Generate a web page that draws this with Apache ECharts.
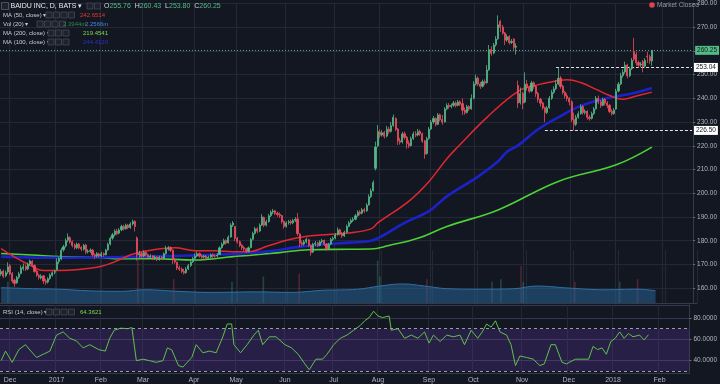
<!DOCTYPE html>
<html><head><meta charset="utf-8">
<script src="https://cdn.jsdelivr.net/npm/echarts@6/dist/echarts.min.js"></script>
<style>html,body{margin:0;padding:0;background:#131722;}#c{width:720px;height:384px;}</style>
</head><body><div id="c"></div><script>
// ---------- calendar ----------
const startDate = '2016-11-25';
const holidays = ['2016-12-26','2017-01-02','2017-01-16','2017-02-20','2017-04-14','2017-05-29','2017-07-04','2017-09-04','2017-11-23','2017-12-25','2018-01-01','2018-01-15','2018-02-19'];
const slotCount = 311;           // trading-day slots shown on the x axis (incl. empty right margin)
const dec1Slot = 4;              // bar numbers below are counted from 2016-12-01
const monthNames = ['Jan','Feb','Mar','Apr','May','Jun','Jul','Aug','Sep','Oct','Nov','Dec'];

// ---------- daily candles [open, close, low, high], from 2016-11-25 ----------
const ohlc = [
[166.0,167.0,165.2,168.1],[167.2,165.0,164.3,167.8],[165.3,166.5,164.6,167.4],[166.8,169.0,166.0,170.9],
[169.5,166.0,165.4,170.2],[166.2,163.0,162.1,166.8],[163.4,162.0,160.6,164.0],[162.3,164.5,161.8,165.2],[164.6,166.0,163.9,166.9],
[166.2,168.5,165.8,169.6],[168.3,169.0,167.4,170.4],[169.2,168.0,167.2,169.9],[168.1,170.0,167.6,170.8],[170.2,171.5,169.4,172.1],
[171.3,169.5,168.9,171.8],[169.6,167.0,166.5,170.0],[167.2,165.5,164.8,167.7],[165.4,164.5,163.6,166.1],[164.3,165.0,163.7,165.9],
[165.2,163.0,161.8,165.5],[163.1,162.5,161.4,163.9],[162.6,164.0,162.0,164.6],[164.1,165.5,163.5,166.2],[165.4,166.5,164.9,167.1],
[166.7,167.0,165.8,167.8],[167.8,171.0,167.4,172.6],[171.2,172.5,170.3,173.1],[172.3,176.0,171.8,177.0],[176.2,177.5,175.4,178.3],
[177.8,180.0,177.1,181.0],[180.2,181.5,179.4,183.1],[181.3,179.5,178.8,181.9],[179.6,178.0,177.2,180.1],[178.2,177.0,176.3,178.8],
[177.1,178.5,176.5,179.2],[178.6,177.0,176.4,179.1],[177.2,176.5,175.6,177.8],[176.4,178.0,175.9,178.7],[178.2,175.2,174.3,178.7],
[175.3,175.5,174.6,176.4],[175.6,176.0,174.9,176.8],[176.1,174.0,173.3,176.5],[174.1,173.5,172.4,174.6],[173.6,174.5,172.9,175.2],
[174.4,173.5,172.8,175.0],[173.6,174.5,173.0,175.3],[174.6,174.0,173.2,175.1],[174.1,176.0,173.8,176.6],[176.1,178.5,175.8,179.2],
[178.6,181.0,178.0,181.7],[181.1,182.5,180.4,183.3],[182.6,184.0,181.9,184.8],[184.1,183.0,182.3,185.0],[183.2,184.5,182.7,185.3],
[184.6,186.0,184.0,186.8],[186.1,185.0,184.3,186.7],[185.1,186.5,184.6,187.2],[186.6,185.5,184.9,187.1],[185.6,187.0,185.0,187.8],
[187.1,188.0,186.4,188.9],[188.2,186.0,183.9,188.6],[181.2,174.0,171.6,181.8],[174.2,174.5,172.8,175.8],[174.6,173.5,172.6,175.2],
[173.6,175.0,173.0,175.9],[175.1,174.0,173.3,175.6],[174.1,173.0,172.2,174.6],[173.1,173.5,172.4,174.3],[173.6,172.5,171.8,174.0],
[172.6,173.0,171.9,173.8],[173.1,172.0,171.4,173.5],[172.1,173.0,171.6,173.7],[173.1,172.5,171.9,173.6],[172.6,174.5,172.2,175.1],
[174.6,176.5,174.1,177.9],[176.6,177.0,175.8,177.8],[177.1,176.0,175.2,177.6],[176.0,172.0,170.2,176.3],[172.1,171.0,170.3,172.8],
[170.9,168.5,167.6,171.2],[168.6,168.0,167.2,169.5],[168.1,167.0,166.3,168.8],[167.1,166.5,165.8,168.2],[166.6,168.0,166.0,168.9],
[168.1,169.5,167.6,170.2],[169.6,171.0,169.0,171.8],[171.1,172.5,170.6,173.2],[172.6,173.5,172.0,174.6],[173.6,174.5,173.0,175.4],
[174.6,173.5,172.9,175.1],[173.6,173.0,172.3,174.2],[173.1,173.5,172.5,174.1],[173.6,172.5,171.8,174.0],[172.6,173.0,172.0,173.7],
[173.1,174.0,172.6,174.6],[174.1,173.5,172.8,174.7],[173.6,173.5,172.9,174.2],[173.6,174.0,173.0,174.8],[174.2,177.0,174.0,177.6],
[177.1,178.5,176.6,179.3],[178.6,180.0,178.0,180.9],[180.1,179.0,178.3,180.6],[179.1,181.5,178.8,182.3],[181.6,186.5,181.3,187.4],
[186.6,187.5,185.8,188.3],[186.0,181.0,179.8,186.3],[181.1,179.5,178.8,181.6],[179.6,178.0,177.3,180.1],[178.1,177.0,176.1,178.7],
[177.1,176.5,175.7,177.8],[176.6,175.5,174.8,177.0],[175.6,177.0,175.1,177.6],[177.1,180.5,176.8,181.2],[180.6,183.0,180.1,183.8],
[183.1,185.0,182.6,185.8],[185.1,184.0,183.2,185.7],[184.1,186.5,183.6,187.3],[186.6,190.0,186.2,191.2],[189.8,186.5,185.7,190.2],
[186.6,188.0,186.0,188.9],[188.1,190.5,187.6,191.3],[190.6,192.0,190.0,192.8],[192.1,192.5,191.2,193.4],[192.6,191.5,190.8,193.0],
[191.6,191.0,190.1,192.3],[191.1,190.5,189.6,191.9],[190.6,188.0,187.2,190.9],[188.1,186.0,185.1,188.6],[186.1,187.5,185.5,188.2],
[187.6,188.0,186.8,188.8],[188.1,187.5,186.7,188.9],[187.6,188.5,187.0,189.2],[188.6,189.0,187.9,189.9],[189.2,183.0,182.1,191.7],
[182.8,179.0,177.4,183.2],[179.1,178.5,177.6,180.0],[178.6,179.5,177.9,180.3],[179.6,180.5,178.8,181.3],[180.4,178.0,177.2,180.9],
[178.1,175.0,173.7,178.4],[175.2,178.5,174.8,179.2],[178.6,179.0,177.7,179.9],[179.1,178.0,177.3,179.6],[178.1,179.5,177.6,180.2],
[179.6,180.0,178.9,180.8],[180.1,178.5,177.8,180.5],[178.6,176.5,175.8,178.9],[176.6,178.5,176.1,179.1],[178.6,180.5,178.2,181.2],
[180.6,181.0,179.9,181.8],[181.1,182.5,180.6,183.2],[182.6,184.5,182.1,185.6],[184.6,183.0,182.3,185.1],[183.1,182.0,181.2,183.7],
[182.1,183.5,181.6,184.2],[183.6,186.0,183.2,186.8],[186.1,187.5,185.7,188.3],[187.6,188.5,187.0,189.3],[188.6,189.0,187.9,189.9],
[189.1,190.5,188.6,191.3],[190.6,192.0,190.1,192.8],[192.1,191.5,190.7,192.9],[191.6,193.0,191.1,193.8],[193.1,192.5,191.8,193.9],
[192.6,195.0,192.2,195.8],[195.1,198.5,194.8,199.6],[198.6,201.0,198.0,202.0],[201.1,204.5,200.8,205.4],[210.5,219.5,209.6,221.8],
[220.0,226.0,219.4,228.8],[225.8,224.5,223.3,227.0],[224.6,225.5,223.9,226.6],[225.6,224.0,223.1,226.3],[224.1,227.0,223.6,228.4],
[227.1,226.0,225.1,228.0],[226.1,228.5,225.6,230.0],[228.6,232.0,228.0,233.2],[231.5,227.0,226.2,232.0],[227.1,222.0,220.4,227.5],
[222.1,221.5,220.5,223.4],[221.6,225.0,221.0,225.9],[225.1,223.5,222.6,226.0],[223.6,221.0,218.8,224.2],[221.1,220.0,219.0,222.3],
[220.1,223.0,219.7,223.9],[223.1,225.0,222.5,226.0],[225.1,224.5,223.6,226.2],[224.6,226.0,224.0,227.1],[226.1,225.0,224.2,226.8],
[225.1,222.0,221.2,225.6],[222.1,216.5,214.6,222.5],[216.8,223.0,216.3,223.8],[223.1,227.0,222.6,227.9],[227.1,230.0,226.6,230.9],
[230.1,231.5,229.3,232.6],[231.6,229.0,228.2,232.0],[229.1,233.0,228.7,233.8],[233.1,231.0,230.3,233.6],[231.1,230.0,228.9,233.0],
[230.1,235.5,229.8,236.3],[235.6,237.0,235.0,237.9],[237.1,236.5,235.6,238.0],[236.6,237.0,235.8,237.8],[237.1,238.0,236.4,238.9],
[238.1,237.0,236.2,238.8],[237.1,238.5,236.6,239.3],[238.6,237.5,236.8,239.2],[237.8,235.0,233.0,240.0],[235.1,234.0,233.1,236.2],
[234.1,236.5,233.6,237.3],[236.6,235.5,234.7,237.1],[235.6,240.0,235.2,241.7],[240.1,246.0,239.6,247.2],[246.1,248.5,245.4,250.0],
[248.6,246.0,245.2,249.3],[246.1,245.0,244.0,247.0],[245.1,247.0,244.6,247.9],[247.1,246.5,245.6,248.0],[246.6,252.0,246.2,254.0],
[252.1,260.5,251.6,262.5],[260.6,259.0,258.0,262.0],[259.1,262.5,258.6,263.4],[262.6,265.0,261.8,266.2],[265.1,271.0,264.7,275.0],
[272.5,270.0,268.0,273.0],[270.1,267.5,266.8,271.0],[267.6,264.5,262.5,268.0],[264.6,266.0,263.9,267.0],[266.1,263.5,262.7,266.6],
[263.6,264.0,262.9,265.0],[265.0,261.5,260.5,265.4],[261.6,262.0,258.5,263.2],[245.5,238.0,236.0,247.5],[238.3,242.0,237.4,244.6],
[242.1,238.0,235.4,242.8],[238.5,246.0,238.0,251.0],[246.1,244.5,243.3,247.8],[244.6,243.0,242.2,245.4],[243.1,246.5,242.6,247.4],
[246.6,245.0,244.0,247.2],[245.1,242.0,240.6,245.6],[242.1,239.5,238.3,242.8],[239.6,238.0,236.5,240.2],[238.1,236.0,235.2,238.6],
[236.1,234.0,230.0,236.5],[234.1,236.0,233.4,236.8],[236.1,240.0,235.6,241.0],[240.1,242.5,239.4,243.6],[242.6,244.0,241.8,245.1],
[244.1,246.0,243.5,247.6],[246.1,248.5,245.6,253.0],[248.6,245.0,244.1,249.4],[245.1,242.5,241.6,245.8],[242.6,241.0,240.0,243.2],
[241.1,240.0,238.8,242.2],[240.1,238.5,237.0,240.6],[238.6,231.0,230.0,239.2],[231.1,229.0,226.5,234.0],[229.1,232.0,228.3,233.0],
[232.1,233.5,231.4,234.6],[233.6,236.5,233.1,237.5],[236.6,234.0,233.2,237.2],[234.1,234.5,233.2,235.4],[234.6,232.0,231.0,235.0],
[232.1,231.5,230.6,233.0],[231.6,233.5,231.1,234.4],[233.6,235.5,233.0,236.4],[235.6,240.0,235.2,241.0],[240.1,238.5,237.6,241.2],
[238.6,237.0,236.0,239.4],[237.1,239.5,236.7,240.3],[239.6,238.0,237.0,240.2],[238.1,237.0,235.8,238.9],[237.1,234.5,233.8,237.6],
[234.6,233.5,232.8,235.4],[233.6,235.0,233.1,235.9],[235.5,243.0,235.2,244.0],[243.1,246.0,242.6,246.9],[246.1,249.5,245.6,250.8],
[249.6,251.0,248.8,252.2],[251.1,254.0,250.4,255.5],[254.1,249.5,248.4,254.6],[249.6,252.5,249.0,253.4],[252.6,256.0,252.0,257.0],
[259.8,256.5,255.8,265.5],[258.5,255.0,253.8,259.5],[255.1,254.0,252.8,256.0],[254.1,254.5,253.2,255.4],[255.5,253.5,251.0,256.2],
[253.6,256.0,253.0,257.0],[257.8,257.5,255.0,259.6],[257.6,255.8,254.6,258.4],[255.76,260.25,253.80,260.43]
];

// ---------- moving averages (bar number from 2016-12-01, value) ----------
const ma50Bars  = [-4,1,9,15,22,31,39,45,49,56,65,74,83,92,100,107,116,125,134,143,152,162,165,179,188,196,201,214,228,237,246,250,256,263,269,275,281,288];
const ma50Vals  = [176.7,173.7,169.6,167.5,167.5,167.9,168.8,170.4,172.0,174.6,176.3,177.0,175.8,175.8,175.4,175.4,177.9,180.4,182.0,182.6,183.3,185.0,187.5,196.7,205.0,214.6,219.6,232.0,243.0,245.8,247.5,247.9,246.7,243.8,241.2,239.6,241.0,242.65];
const ma100Bars = [-4,22,49,74,98,116,129,143,152,162,167,177,188,196,210,219,223,228,237,246,254,263,272,281,288];
const ma100Vals = [173.3,172.8,173.1,173.6,174.3,175.5,177.3,178.6,179.2,180.0,182.0,187.5,192.5,198.7,207.0,213.5,217.5,220.2,227.0,232.0,236.0,239.0,240.8,242.5,244.4];
const ma200Bars = [-4,10,22,40,49,65,83,100,107,121,134,152,162,170,183,196,219,246,272,288];
const ma200Vals = [174.6,174.0,173.3,172.9,172.4,172.4,171.9,173.3,173.8,175.0,176.2,176.4,176.5,178.0,181.0,186.0,193.0,205.0,212.0,219.45];

// ---------- volume (millions): 20-day average band and the visible spikes ----------
const volMaBars = [-4,10,22,35,50,60,75,90,110,125,140,155,165,175,185,195,210,225,235,250,265,280,288];
const volMaVals = [2.9,2.7,2.6,2.3,2.2,2.5,2.2,2.0,2.1,2.0,2.4,2.6,3.2,3.6,3.2,2.7,2.6,2.7,3.2,2.8,2.5,2.6,2.3];
const volSpikeBars = [-1,57,73,99,113,129,164,165,186,215,219,228,229,252,272,280];
const volSpikeVals = [4.0,9.5,4.5,4.0,5.0,5.5,8.0,5.0,4.5,4.0,4.5,7.0,4.0,4.0,4.0,4.5];

// ---------- RSI(14) ----------
const rsiBars = [-4,-2,1,4,7,9,12,15,18,21,24,27,30,33,36,40,43,45,47,50,53,55,57,60,63,66,69,71,73,76,78,82,84,87,90,93,96,98,100,101,104,107,110,112,114,117,120,124,127,130,133,135,138,141,143,146,149,152,155,158,160,162,164,166,168,171,172,175,178,181,184,187,189,191,194,197,200,203,205,208,211,213,215,217,219,221,224,226,228,230,233,236,239,241,244,246,249,251,255,258,261,263,265,267,269,271,273,275,277,279,281,284,286,288];
const rsiVals = [40,49,38.4,50.4,55,50,43,46,49,64,67,61,58.5,52,55,50.4,49,61,68.5,70.5,70,71,40,41.4,40,38.4,40,52,50,35.4,34,43,55,47.4,49,47.4,62.4,74.4,74.4,55,47.4,55,64,68.5,55,62.4,62.4,55,52,46,37,31.5,41.4,41.4,46,55,61,64,68.5,73,77.4,80.4,86.4,81.9,80.4,81.9,68.5,70,61,64,61,67,56.5,64,58,64,62.4,64,55,68.5,61,67,74.4,71.4,77.4,67,64,55,35.4,44.4,43,41.4,35.4,37,55,55,38.4,37,41.4,41.4,41.4,53.4,50.4,52,46,58,61,67,61,65.5,62.4,64,59.5,64.36];

// ---------- levels & header ----------
const lastPrice = 260.25;
const resistance = {value: 253.04, fromBar: 245};
const support = {value: 226.50, fromBar: 240};
const rsiBands = {upper: 70, lower: 30};
const priceTicks = [160,170,180,190,200,210,220,230,240,250,260,270,280];
const rsiTicks = [40,60,80];
const header = {symbol:'BAIDU INC, D, BATS', o:'255.76', h:'260.43', l:'253.80', c:'260.25'};
const legendNames  = ['MA (50, close)', 'Vol (20)', 'MA (200, close)', 'MA (100, close)'];
const legendValues = [['242.6514'], ['2.3944m','2.2566m'], ['219.4541'], ['244.4120']];
const legendValueColors = [['#e53935'], ['#2f8a3c','#3d8be0'], ['#7ed957'], ['#2a2fd0']];
const rsiLegend = {name:'RSI (14, close)', val:'64.3621'};

// ---------- build ----------
function tradingDays(start, n, hol) {
  const out = []; const d = new Date(start + 'T12:00:00Z');
  while (out.length < n) {
    const wd = d.getUTCDay(); const s = d.toISOString().slice(0,10);
    if (wd !== 0 && wd !== 6 && hol.indexOf(s) < 0) out.push(s);
    d.setUTCDate(d.getUTCDate() + 1);
  }
  return out;
}
const dates = tradingDays(startDate, slotCount, holidays);
const slot = b => dates[b + dec1Slot];
const pairs = (bars, vals) => bars.map((b, i) => [slot(b), vals[i]]);
const isMonthStart = (i) => i > 0 && dates[i].slice(0,7) !== dates[i-1].slice(0,7);
const monthLabel = v => { const m = +v.slice(5,7); return m === 1 ? v.slice(0,4) : monthNames[m-1]; };

const BG = '#131722', GRID = '#242834', AXIS = '#363a45', TXT = '#b2b5be';
const UP = '#53b987', DOWN = '#eb4d5c';
const FONT = 'Liberation Sans, Arial, sans-serif';

const xBase = (gi, showLabels) => ({
  type:'category', gridIndex:gi, data:dates, boundaryGap:true,
  axisLine:{show: gi !== 0, lineStyle:{color:AXIS, width:1}},
  axisTick:{show:false},
  axisLabel:{show:showLabels, interval:(i)=>isMonthStart(i), formatter:monthLabel, color:TXT, fontSize:7, fontFamily:FONT, margin:4},
  splitLine:{show:true, interval:(i)=>isMonthStart(i), lineStyle:{color:GRID, width:1}}
});

const chart = echarts.init(document.getElementById('c'), null, {renderer:'canvas', width:720, height:384});

// header / legend decorations (layout only)
const G = [];
const txt = (x, y, text, fill, size, extra) => Object.assign({type:'text', x:x, y:y, z:100,
  style:Object.assign({text:text, fill:fill, font:size + 'px ' + FONT, verticalAlign:'middle'}, extra || {})});
const box = (x, y) => ({type:'rect', z:100, shape:{x:x, y:y - 3, width:6, height:6}, style:{fill:'#1e222d', stroke:'#454955', lineWidth:0.8}});
G.push({type:'rect', z:100, shape:{x:1.5, y:2.5, width:7, height:7}, style:{fill:'#1e222d', stroke:'#5a5e69', lineWidth:0.8}});
G.push(txt(10.5, 6, header.symbol + ' \u25BE', '#e6e8ee', 7));
G.push(box(87, 6), box(94.5, 6));
G.push(txt(104, 6, '{k|O}{v|' + header.o + '}  {k|H}{v|' + header.h + '}  {k|L}{v|' + header.l + '}  {k|C}{v|' + header.c + '}', '#d1d4dc', 7,
  {rich:{k:{fill:'#d1d4dc', font:'7px ' + FONT}, v:{fill:UP, font:'7px ' + FONT}}}));
const rowY = [15, 24, 33, 42];
const rowBoxX = [46, 37, 48, 48];
const rowBoxN = [4, 4, 3, 3];
const rowValX = [[80], [63, 85], [83], [83]];
legendNames.forEach((n, i) => {
  G.push(txt(3, rowY[i], n + ' \u25BE', '#c8cad0', 6));
  for (let k = 0; k < rowBoxN[i]; k++) G.push(box(rowBoxX[i] + k * 7.5, rowY[i]));
  legendValues[i].forEach((v, j) => G.push(txt(rowValX[i][j], rowY[i], v, legendValueColors[i][j], 6)));
});
G.push(txt(3, 312, rsiLegend.name + ' \u25BE', '#c8cad0', 6));
for (let k = 0; k < 4; k++) G.push(box(46 + k * 7.5, 312));
G.push(txt(80, 312, rsiLegend.val, '#7ed957', 6));
G.push({type:'circle', z:100, shape:{cx:652, cy:5, r:2.8}, style:{fill:'#e0424f'}});
G.push(txt(657, 5, 'Market Closed', '#9598a1', 6.5));

const option = {
  backgroundColor: BG,
  animation: false,
  textStyle:{fontFamily:FONT},
  grid: [
    {left:0, right:23, top:0, height:303},
    {left:0, right:23, top:250, height:53},
    {left:0, right:23, top:305, height:68}
  ],
  xAxis: [ xBase(0,false), xBase(1,false), xBase(2,true) ],
  yAxis: [
    {type:'value', gridIndex:0, position:'right', min:153.75, max:280, minInterval:10, maxInterval:10,
     axisLine:{show:true, lineStyle:{color:AXIS}}, axisTick:{show:true, length:2, lineStyle:{color:'#6a6d78'}},
     axisLabel:{color:TXT, fontSize:6.5, margin:4, showMinLabel:false, formatter:v => priceTicks.indexOf(v) >= 0 ? v.toFixed(2) : ''},
     splitLine:{lineStyle:{color:GRID}}},
    {type:'value', gridIndex:1, min:0, max:10, show:false, splitLine:{show:false}},
    {type:'value', gridIndex:2, position:'right', min:28.45, max:92.2, minInterval:20, maxInterval:20,
     axisLine:{show:true, lineStyle:{color:AXIS}}, axisTick:{show:true, length:2, lineStyle:{color:'#6a6d78'}},
     axisLabel:{color:TXT, fontSize:6.5, margin:4, showMinLabel:false, showMaxLabel:false, formatter:v => rsiTicks.indexOf(v) >= 0 ? v.toFixed(4) : ''},
     splitLine:{lineStyle:{color:'#3a3550'}}}
  ],
  series: [
    {type:'bar', xAxisIndex:1, yAxisIndex:1, barWidth:1.6, z:1,
     data: volSpikeBars.map((b,i) => { const c = ohlc[b + dec1Slot]; return {value:[slot(b), volSpikeVals[i]], itemStyle:{color: c[1] >= c[0] ? 'rgba(83,185,135,0.28)' : 'rgba(235,77,92,0.28)'}}; })},
    {type:'line', xAxisIndex:1, yAxisIndex:1, data:pairs(volMaBars, volMaVals), smooth:0.4, connectNulls:true, symbol:'none', z:2,
     lineStyle:{color:'#2f6fa3', width:1}, areaStyle:{color:'rgba(38,93,140,0.85)'}},
    {type:'line', xAxisIndex:0, yAxisIndex:0, data:pairs(ma200Bars, ma200Vals), smooth:0.4, symbol:'none', z:3,
     lineStyle:{color:'#4cd137', width:1.6}},
    {type:'line', xAxisIndex:0, yAxisIndex:0, data:pairs(ma100Bars, ma100Vals), smooth:0.4, symbol:'none', z:3,
     lineStyle:{color:'#1b22c8', width:2.6}},
    {type:'line', xAxisIndex:0, yAxisIndex:0, data:pairs(ma50Bars, ma50Vals), smooth:0.4, symbol:'none', z:4,
     lineStyle:{color:'#e3262f', width:1.5}},
    {type:'candlestick', xAxisIndex:0, yAxisIndex:0, data:ohlc, barWidth:1.6, z:5,
     itemStyle:{color:UP, color0:DOWN, borderColor:UP, borderColor0:DOWN, borderWidth:0.8},
     markLine:{silent:true, symbol:'none', animation:false,
       label:{position:'end', distance:2, fontSize:6.5, padding:[1,2,1,2]},
       data:[
         {yAxis:lastPrice, lineStyle:{color:'#5f9f90', type:[1,2], width:1}, label:{formatter:lastPrice.toFixed(2), backgroundColor:UP, color:'#0d1a14'}},
         [{coord:[slot(resistance.fromBar), resistance.value], lineStyle:{color:'#e0e3eb', type:[3,2], width:1}, label:{formatter:resistance.value.toFixed(2), backgroundColor:'#ffffff', color:'#131722'}},
          {coord:[dates[slotCount-1], resistance.value]}],
         [{coord:[slot(support.fromBar), support.value], lineStyle:{color:'#e0e3eb', type:[3,2], width:1}, label:{formatter:support.value.toFixed(2), backgroundColor:'#ffffff', color:'#131722'}},
          {coord:[dates[slotCount-1], support.value]}]
       ]}},
    {type:'line', xAxisIndex:2, yAxisIndex:2, data:pairs(rsiBars, rsiVals), symbol:'none', z:4,
     lineStyle:{color:'#5fc24a', width:1},
     markArea:{silent:true, itemStyle:{color:'rgba(110,60,190,0.24)'}, data:[[{yAxis:rsiBands.lower},{yAxis:rsiBands.upper}]]},
     markLine:{silent:true, symbol:'none', label:{show:false},
       lineStyle:{color:'#9a9ca6', type:[3,3], width:1},
       data:[{yAxis:rsiBands.upper},{yAxis:rsiBands.lower}]}}
  ],
  graphic: G
};
chart.setOption(option);
</script></body></html>
